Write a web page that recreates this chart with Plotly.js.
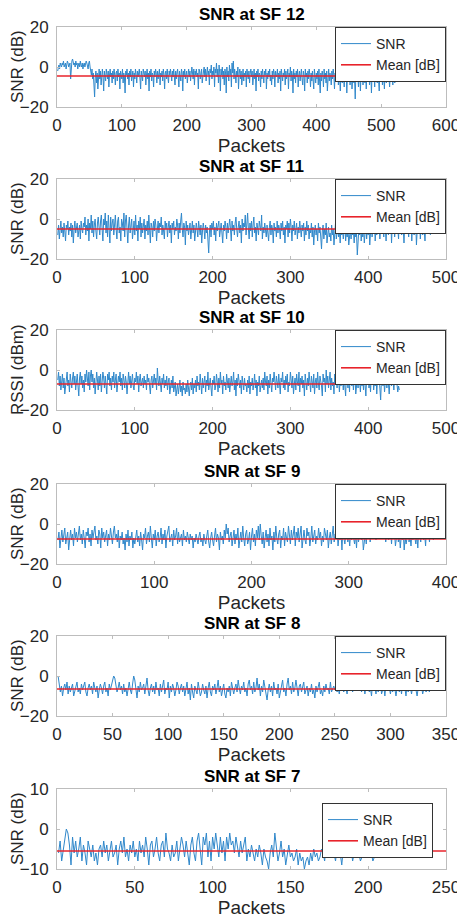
<!DOCTYPE html>
<html><head><meta charset="utf-8">
<script src="https://cdn.plot.ly/plotly-3.0.1.min.js"></script>
<style>html,body{margin:0;padding:0;background:#fff}#chart{width:457px;height:918px}</style>
</head><body><div id="chart"></div>
<script>
const sf12Snr = [
-2,0,1,-1,2,1,0,2,1,3,0,1,2,-1,1,3,2,0,1,2,-6,1,3,4,2,
1,2,0,3,1,2,-1,1,2,0,3,1,0,2,-1,1,2,0,1,3,2,1,-1,2,3,
0,-2,-4,-1,-6,-3,-9,-15,-5,-2,-8,-3,-11,-4,-1,-6,-2,-9,-3,-1,-5,-12,-2,-4,-7,
-1,-3,-6,-2,-10,-4,-1,-5,-3,-8,-2,-6,-1,-4,-9,-3,-2,-7,-1,-5,-3,-11,-2,-4,-6,
-1,-8,-3,-5,-13,-2,-4,-1,-6,-3,-9,-2,-5,-1,-7,-4,-2,-10,-3,-6,-1,-4,-8,-2,-5,
-3,-1,-6,-11,-2,-4,-7,-1,-3,-5,-2,-9,-4,-1,-6,-3,-12,-2,-5,-1,-7,-3,-4,-10,-2,
-5,-1,-3,-8,-2,-6,-4,-1,-9,-3,-5,-2,-7,-1,-4,-11,-3,-2,-6,-1,-5,-8,-2,-4,-1,
-3,-7,-2,-5,-1,-4,-9,-2,-6,-3,-1,-5,-10,-2,-4,-7,-1,-3,-12,-2,-5,-1,-6,-4,-2,
-8,-3,-1,-5,-2,-7,-4,0,-3,-6,-1,-9,-2,-4,-1,-5,-3,-11,-1,-2,-6,-4,-1,-8,-3,
-2,0,-5,-1,-7,-3,0,-4,-2,-9,-1,-3,1,-6,-2,-4,0,-10,-1,-3,2,-5,-1,-8,1,
-3,-12,-1,-4,0,-6,-2,-9,-1,-3,-13,0,-5,-2,-7,1,-4,-1,-10,2,-3,3,-6,-1,-4,
-8,-2,-5,0,-11,-3,-1,-6,-2,-9,-4,-1,-7,-3,-5,-2,-10,-1,-4,-6,-2,-8,-3,-1,-5,
-2,-9,-4,-1,-6,-3,-12,-2,-5,-1,-7,-3,-4,-10,-2,-6,-1,-5,-8,-2,-4,-1,-11,-3,-6,
-2,-5,-1,-7,-4,-9,-2,-6,-1,-3,-10,-2,-5,-4,-1,-8,-3,-6,-2,-12,-1,-4,-7,-3,-5,
-1,-9,-2,-6,-4,-1,-11,-3,-5,0,-7,-2,-4,-13,-1,-6,-3,-8,-2,-5,-1,-10,-4,-2,-7,
-3,-1,-6,-9,-2,-4,-12,-1,-5,-3,-8,-2,-6,-1,-4,-10,-3,-7,-2,-5,-11,-1,-4,-8,-3,
-6,-2,-9,-1,-5,-13,-3,-7,-2,-4,-10,-1,-6,-3,-8,-2,-12,-4,-1,-7,-3,-5,-9,-2,-6,
-1,-4,-11,-3,-7,-2,-5,-1,-9,-3,-6,-12,-2,-4,-8,-1,-5,-10,-3,-6,-2,-13,-4,-1,-7,
-3,-9,-5,-2,-11,-4,-1,-8,-6,-16,-3,-7,-2,-5,-10,-1,-4,-12,-3,-6,-2,-9,-5,-1,-8,
-3,-11,-2,-6,-4,-1,-9,-5,-2,-13,-3,-7,-1,-4,-10,-2,-6,-3,-8,-1,-5,-12,-2,-4,-7,
-3,-9,-1,-6,-11,-2,-4,-8,-3,-1,-7,-5,-10,-2,0,-6,-3,-9,-1,-4,-8,-2,-7,-3,-5
];
const sf11Snr = [
-8,-3,-10,-5,-1,-7,-4,-9,-2,-6,-11,-3,-5,-1,-8,-4,-6,-2,-9,-3,-12,-5,-1,-7,
-4,-2,-9,-6,-3,-10,-1,-5,-7,-2,-4,1,-8,-3,-6,0,-11,-2,-5,2,-7,-1,-9,-3,
0,-6,-10,-2,1,-4,-8,-1,2,-5,-11,0,-3,3,-7,-1,-9,2,-4,-12,1,-6,-2,0,
-8,-3,2,-5,-10,-1,1,-7,-4,-11,0,-2,-6,3,-9,-1,2,-5,-12,-3,1,-7,-2,0,
-10,-4,-1,-8,2,-6,-3,-11,-1,-5,1,-9,-2,-7,-4,0,-10,-3,-6,-1,-8,2,-5,-12,
-2,-4,-9,-1,-6,0,-3,-11,-5,-1,-7,-2,-4,1,-8,-3,-6,-10,-1,-5,-2,-9,-4,-1,
-7,-3,-12,-2,-5,-1,-8,-4,-6,0,-3,-10,-2,-7,-1,3,-5,-9,-2,-4,-13,-1,-6,-3,
-8,-5,-2,-10,-4,-1,-7,-3,-11,-6,-2,-5,-9,-1,-4,-8,-3,-12,-6,-2,-5,-10,-3,-7,
-4,-14,-17,-6,-3,-9,-2,-5,-1,-8,-4,-11,-2,-6,-3,-1,-9,-5,-2,-7,-12,-3,-6,-1,
-4,-10,-2,-7,-3,0,-5,-11,-1,-6,-3,-8,-2,1,-5,-9,-4,-1,-7,-3,-12,0,-6,-2,
-4,2,-8,-1,3,-5,-10,-2,-6,-1,-9,-3,1,-7,-4,-11,-2,-5,-8,-1,-3,-6,2,-10,
-4,-7,-2,-5,-9,-3,-6,-11,-4,-1,-8,-3,-5,-12,-2,-6,-4,-9,-1,-7,-3,-5,-10,-2,
-6,-1,-8,-4,-12,-3,-5,-1,-9,-2,-7,0,-4,-11,-3,-6,-1,-8,-5,-2,-10,-4,-7,-1,
-5,-9,-3,-6,-2,-11,-4,-8,-1,-6,-3,-10,-5,-7,-2,-9,-4,-13,-6,-3,-8,-5,-11,-2,
-7,-4,-9,-15,-6,-3,-10,-5,-8,-2,-12,-6,-4,-9,-7,-11,-3,-8,-5,-13,-6,-2,-10,-7,
-4,-9,-6,-12,-3,-8,-5,-10,-7,-2,-11,-6,-9,-4,-13,-7,-5,-10,-3,-8,-6,-12,-4,-9,
-7,-18,-10,-5,-8,-3,-11,-6,-9,-4,-12,-7,-2,-10,-5,-8,-3,-13,-6,-1,-9,-4,-7,-2,
-11,-5,-8,-1,-6,-3,-10,-4,1,-7,-2,-9,2,-5,-11,-3,0,-8,-4,-6,1,-12,-2,-5,
-1,-9,-3,2,-7,-4,-10,0,-6,-2,-8,1,-5,-12,-3,-1,-7,2,-4,-9,-2,-6,0,-11,
-3,2,-8,-5,-1,-13,-4,2,-7,-2,-10,-5,1,-8,-3,-6,-11,-2,-4,-7,-5,-3,-6,-8
];
const sf10Rssi = [
-5,-1,-8,-3,-10,-6,-2,-9,-4,-12,-7,-3,-1,-8,-5,-11,-2,-6,-9,-4,-1,-7,
-3,-10,-5,-2,-8,-13,-4,-1,-7,-3,-9,-5,-11,-2,-6,0,-4,-8,-1,-10,-3,0,
-6,-2,-9,-4,-12,-7,-1,-5,-10,-3,-8,-2,-11,-6,-1,-4,-9,-3,-7,-12,-2,-5,
-1,-8,-4,-10,-3,-6,-1,-9,-5,-2,-11,-7,-3,-6,-1,-8,-4,-10,-2,-5,-9,-3,
-6,-12,-4,-1,-7,-3,-9,-5,-2,-8,-10,-4,-6,-1,-7,-3,-11,-5,-2,-8,-6,-4,
-9,-3,-7,-5,-10,-2,-6,-4,-8,-12,-5,-3,-9,-6,-2,-7,-4,-10,1,-5,-8,-3,
-6,-11,-4,-7,-2,-9,-5,-8,-3,-10,-6,-4,-12,-7,-5,-9,-3,-11,-8,-6,-13,-10,
-7,-12,-9,-5,-11,-8,-13,-6,-10,-9,-12,-7,-11,-5,-9,-13,-8,-6,-10,-4,-12,-7,
-9,-5,-11,-3,-8,-6,-10,-2,-7,-12,-4,-9,-6,-3,-11,-5,-8,-1,-10,-6,-4,-9,
-13,-5,-7,-3,-10,-8,-2,-6,-11,-4,-9,-1,-7,-5,-12,-3,-8,-6,-10,-2,-5,-9,
-4,-11,-7,-3,-8,-6,-1,-10,-5,-13,-4,-8,-2,-7,-9,-5,-12,-3,-6,-10,-4,-8,
-7,-11,-5,-9,-3,-12,-6,-8,-4,-10,-7,-2,-9,-5,-13,-6,-8,-3,-11,-7,-5,-9,
-4,-10,-1,-6,-8,-3,-12,-5,-9,-2,-7,-11,-4,-6,-1,-8,-10,-3,-5,-9,-2,-7,
-12,-4,-6,-1,-9,-5,-10,-3,-7,-2,-11,-6,-8,-1,-5,-9,-3,-12,-7,-4,-10,-2,
-6,-8,-1,-11,-4,-7,-3,-9,-5,-13,-2,-6,-10,-4,-8,-1,-7,-11,-3,-5,-9,-2,
-12,-6,-4,-9,-1,-7,-10,-3,-5,-8,-13,-2,-6,-4,-11,0,-7,-3,-9,-5,-1,-10,
-4,-8,-6,-12,-2,-7,-3,-9,-1,-5,-11,-4,-8,0,-6,-10,-3,-7,-13,-2,-5,-9,
-4,-11,-1,-6,-8,-3,-10,-5,-2,-12,-7,-4,-9,-1,-6,-11,-3,-8,-5,-10,-2,-7,
-13,-4,-6,-1,-9,-5,-11,-3,-7,-2,-10,-6,-8,-1,-12,-4,-7,-3,-9,-15,-5,-2,
-8,-4,-11,-6,-1,-9,-3,-7,-12,-5,-2,-8,0,-6,-10,-4,-7,-3,-9,-11,-8,-10
];
const sf9Snr = [
-8,-4,-12,-6,-3,-9,-5,-2,-10,-7,-4,-13,-6,-3,-8,-5,-11,-2,-7,-4,-9,-6,-1,-8,-5,-10,-3,-7,-12,-4,
-6,-2,-9,-5,-11,-3,-7,-4,-1,-8,-6,-10,-3,-5,-12,-2,-7,-4,-9,-6,-3,-11,-5,-8,-2,-6,-10,-4,-1,-7,
-5,-9,-3,-12,-6,-8,-4,-10,-7,-13,-5,-9,-3,-11,-6,-8,-4,-12,-7,-10,-5,-3,-9,-6,-11,-4,-8,-13,-5,-7,
-2,-10,-6,-4,-9,-1,-7,-12,-5,-8,-3,-11,-6,-4,-9,-7,-2,-10,-5,-8,-3,-12,-6,-4,-1,-9,-7,-5,-11,-3,
-8,-6,-2,-10,-4,-9,-7,-5,-11,-3,-8,-6,-9,-4,-7,-10,-5,-8,-6,-12,-7,-9,-5,-8,-10,-6,-4,-9,-7,-11,
-5,-8,-10,-6,-3,-9,-12,-7,-4,-8,-11,-6,-2,-9,-5,-7,-13,-4,-8,-6,-10,-3,-7,0,-5,-2,-9,-6,-4,-11,
-7,-3,-10,-5,-8,-2,-12,-6,-4,-9,-1,-7,-11,-5,-3,-10,-8,-4,-13,-6,-2,-9,-5,-11,-3,-7,-1,-8,0,-6,
-10,-4,-12,-7,-3,-9,-5,-11,-2,-8,-6,-13,-4,-9,-1,-7,-10,-5,-3,-12,-6,-8,-2,-11,-4,-7,-9,-1,-6,-10,
-3,-8,-5,-1,-11,-4,-7,-2,-9,-6,-1,-12,-5,-3,-8,-10,-2,-6,-4,-11,-7,-1,-9,-5,-3,-10,-6,-8,-2,-7,
-4,-11,-6,-9,-2,-5,-8,-3,-12,-7,-4,-10,-6,-1,-9,-5,-7,-3,-11,-6,-8,-4,-13,-2,-7,-10,-5,-3,-9,-6,
-11,-4,-8,-2,-7,-10,-5,-12,-3,-9,-6,-1,-8,-4,-13,-7,-5,-10,-3,-6,-2,-9,-5,-1,-7,-4,-2,-8,-3,0,
-5,-1,-7,-3,0,-6,-2,-9,-4,-1,-8,-5,-3,-10,-2,-6,-4,-11,-7,-3,-9,-5,-12,-6,-8,-4,-13,-7,-10,-5,
-3,-9,-6,-11,-4,-8,-2,-7,-10,-5,-12,-3,-6,-9,-4,-1,-8,-5,-11,-2,-7,-4,-9,-3,-6,-2,-8,-4,-3,-6
];
const sf8Snr = [
0,-3,-8,-5,-10,-6,-4,-7,-3,-9,-5,-8,-6,-4,-10,-7,-5,-3,-8,-6,-9,-4,-7,-5,-3,-8,-10,-6,
-4,-7,-5,-9,-3,-6,-8,-5,-11,-7,-4,-6,-9,-5,-3,-8,-6,-10,-4,-7,-5,-2,0,-1,-4,-8,-6,-3,
-7,-5,-9,-4,-8,-6,-10,-5,-3,-7,-9,-4,0,-2,-6,-11,-5,-8,-3,-7,-6,-4,-9,-5,-1,-7,-10,-6,
-4,-8,-5,-9,-3,-7,-6,-10,-4,-8,-5,-2,-9,-6,-7,-3,-11,-5,-8,-4,-6,-10,-7,-3,-5,-9,-6,-4,
-8,-5,-10,-7,-3,-9,-6,-12,-4,-8,-11,-5,-7,-9,-3,-6,-10,-8,-4,-7,-9,-5,-11,-6,-3,-8,-10,-5,
-7,-4,-9,-6,-2,-8,-5,-10,-7,-4,-9,-11,-6,-8,-5,-10,-3,-7,-9,-6,-4,-8,-2,-6,-9,-5,-7,-3,
-8,-6,-10,-4,-2,-7,-5,-9,-3,-8,-6,-1,-7,-4,-10,-5,-8,-2,-6,-9,-12,-7,-4,-8,-5,-10,-3,-7,
-6,-9,-4,-11,-7,-5,-2,-8,-6,-10,-4,-1,-7,-5,-9,-3,-8,-6,-2,-7,-10,-5,-4,-8,-6,-3,-9,-7,
-5,-10,-6,-8,-4,-9,-7,-11,-5,-8,-6,-3,-9,-7,-10,-5,-8,-4,-7,-6,-9,-3,-8,-6,-5,-7,-4,-8,
-6,-9,-3,-7,-5,-8,-2,-6,-9,-4,-7,-5,-3,-8,-1,0,-4,-2,-7,-5,-1,-8,-6,-3,-9,-5,-7,-4,
-8,-6,-10,-3,-7,-5,-9,-4,-8,-6,-2,-9,-7,-5,-10,-4,-7,-1,-6,-9,-5,-8,-3,-7,-10,-6,-4,-8,
-5,-9,-3,-7,-6,-10,-4,-8,-2,-6,-9,-5,-7,-4,-8,-10,-6,-3,-7,-5,-9,-6,-4,-8,-7,-5,-8,-6
];
const sf7Snr = [
-6,-3,-8,-5,-2,0,-1,-4,-9,-2,-6,-3,-7,-5,-2,-8,-4,-6,-9,-3,-5,-7,-4,-8,-6,
-9,-5,-4,-7,-3,-6,-4,-8,-5,-3,-7,-6,-4,-9,-5,-3,-6,-2,-7,-5,-8,-4,-6,-3,-7,
-5,-8,-3,-6,-4,-7,-2,-5,-9,-4,-3,-7,-5,-2,-6,-8,-4,-3,-7,-1,-5,-6,-8,-4,-7,
-6,-3,-8,-5,-2,-4,-7,-3,-6,-9,-4,-2,-6,-8,-3,-1,-5,-9,-2,-4,-1,-7,-3,-8,-2,
-5,-1,-4,-7,-2,-6,-3,-8,-2,-5,-1,-4,-3,-6,-2,-5,-7,-3,-6,-4,-2,-8,-5,-7,-4,
-6,-8,-5,-7,-4,-6,-9,-5,-7,-8,-10,-6,-4,-7,-1,-5,-8,-6,-3,-7,-5,-9,-6,-4,-7,
-6,-8,-7,-5,-9,-6,-8,-7,-10,-8,-7,-9,-6,-8,-5,-7,-6,-8,-7,-5,-6,-8,-4,-6,-7,
-5,-7,-6,-8,-5,-7,-6,-9,-5,-7,-6,-4,-7,-5,-8,-6,-7,-5,-6,-8,-7,-5,-6,-4,-5,
-4,-6,-8,-7
];

const seriesList = [sf12Snr, sf11Snr, sf10Rssi, sf9Snr, sf8Snr, sf7Snr];
const panelTitles = ['SNR at SF 12','SNR at SF 11','SNR at SF 10','SNR at SF 9','SNR at SF 8','SNR at SF 7'];
const yLabels = ['SNR (dB)','SNR (dB)','RSSI (dBm)','SNR (dB)','SNR (dB)','SNR (dB)'];
const meanDb = [-4.5, -5, -7, -7.5, -6.5, -5.5];
const meanEnd = [600, 500, 450, 400, 350, 250];
const xMax = [600, 500, 500, 400, 350, 250];
const xStep = [100, 100, 100, 100, 50, 50];
const yLim = [20, 20, 20, 20, 20, 10];
const legendNames = ['SNR', 'Mean [dB]'];

const W = 457, H = 918;
const FONT = 'Liberation Sans, Arial, Helvetica, sans-serif';
const panelTopPx = [27, 179, 330, 484, 636, 789];
const panelH = 80;
const xd = [57 / W, 446 / W];

const data = [];
const layout = {
  width: W, height: H,
  margin: {l: 0, r: 0, t: 0, b: 0},
  paper_bgcolor: '#fff', plot_bgcolor: '#fff',
  font: {family: FONT, color: '#262626'},
  annotations: [],
  showlegend: true
};

for (let i = 0; i < 6; i++) {
  const n = i === 0 ? '' : String(i + 1);
  const xa = 'x' + n, ya = 'y' + n;
  const lg = 'legend' + n;
  const top = 1 - panelTopPx[i] / H;
  const bot = 1 - (panelTopPx[i] + panelH) / H;
  const s = seriesList[i];
  data.push({
    type: 'scatter', mode: 'lines', name: legendNames[0],
    x: s.map((_, k) => k + 1), y: s,
    xaxis: xa, yaxis: ya, legend: lg,
    line: {color: '#3088cb', width: 1}
  });
  data.push({
    type: 'scatter', mode: 'lines', name: legendNames[1],
    x: [0, meanEnd[i]], y: [meanDb[i], meanDb[i]],
    xaxis: xa, yaxis: ya, legend: lg,
    line: {color: '#e8232b', width: 1.6}
  });
  const axCommon = {
    showline: true, linecolor: '#bdbdbd', linewidth: 1, mirror: 'ticks',
    ticks: 'inside', ticklen: 3, tickcolor: '#bdbdbd',
    showgrid: false, zeroline: false,
    tickfont: {size: 17, family: FONT, color: '#262626'}
  };
  layout['xaxis' + n] = Object.assign({}, axCommon, {
    domain: xd, anchor: ya, range: [0, xMax[i]], tick0: 0, dtick: xStep[i],
    ticklabelstandoff: 3, ticklabeloverflow: 'allow',
    title: {text: 'Packets', font: {size: 19, family: FONT, color: '#262626'}, standoff: 0}
  });
  layout['yaxis' + n] = Object.assign({}, axCommon, {
    domain: [bot, top], anchor: xa, range: [-yLim[i], yLim[i]], tick0: 0, dtick: yLim[i],
    ticklabelstandoff: 4, ticklabeloverflow: 'allow'
  });
  const lgx = i === 5 ? 433 / W : xd[1];
  const lgy = i === 5 ? 1 - 803 / H : top;
  layout[lg] = {
    x: lgx, y: lgy, xanchor: 'right', yanchor: 'top', xref: 'paper', yref: 'paper',
    bgcolor: '#fff', bordercolor: '#333', borderwidth: 1,
    font: {size: 14, family: FONT, color: '#262626'},
    tracegroupgap: 0, itemwidth: 30
  };
  layout.annotations.push({
    text: '<b>' + panelTitles[i] + '</b>', xref: 'paper', yref: 'paper',
    x: (xd[0] + xd[1]) / 2, y: top, yanchor: 'middle', xanchor: 'center',
    yshift: 13, showarrow: false,
    font: {size: 17, family: FONT, color: '#000'}
  });
  layout.annotations.push({
    text: yLabels[i], xref: 'paper', yref: 'paper', textangle: -90,
    x: 17 / W, y: (top + bot) / 2, xanchor: 'center', yanchor: 'middle',
    showarrow: false,
    font: {size: 17, family: FONT, color: '#262626'}
  });
}

Plotly.newPlot('chart', data, layout, {staticPlot: true, displayModeBar: false});
</script>
</body></html>
